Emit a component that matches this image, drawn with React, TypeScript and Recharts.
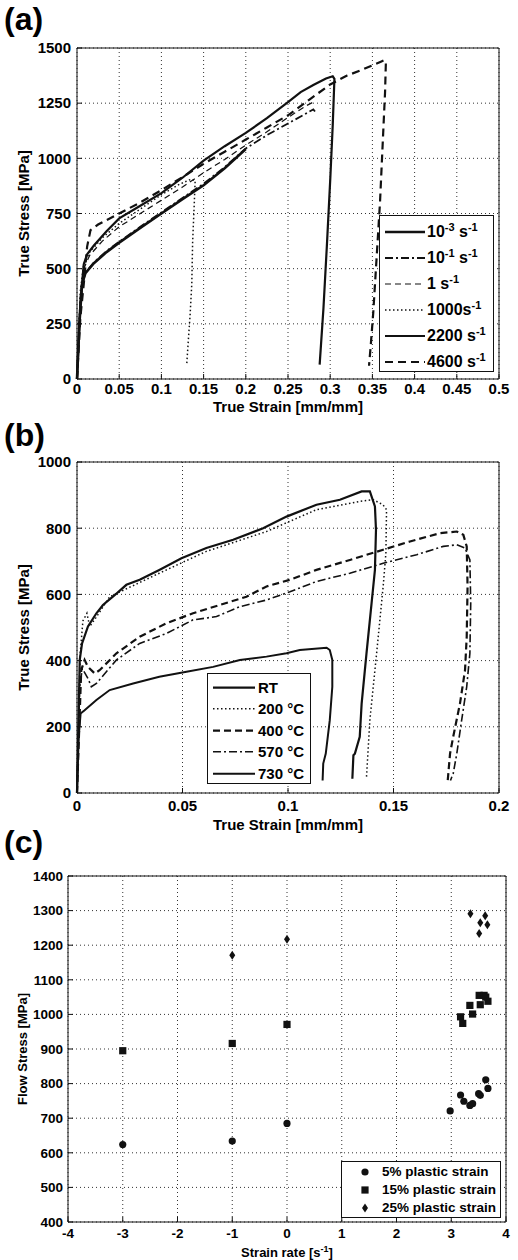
import React from 'react'
import {
  LineChart, Line, ScatterChart, Scatter, XAxis, YAxis, CartesianGrid,
  ReferenceArea, Legend
} from 'recharts'

const FONT = '"Liberation Sans", Arial, Helvetica, sans-serif'
const INK = '#111'

// ---- panel (a): strain-rate series, [strain, stress MPa]
const rate1e3 = [[0, 0], [0.003, 260], [0.006, 430], [0.01, 480], [0.02, 525], [0.035, 575], [0.05, 618], [0.075, 685], [0.1, 750], [0.125, 815], [0.15, 878], [0.175, 955], [0.2, 1042]]
const rate1e1 = [[0, 0], [0.003, 250], [0.006, 425], [0.01, 482], [0.02, 528], [0.035, 580], [0.05, 622], [0.075, 690], [0.1, 755], [0.125, 820], [0.15, 885], [0.175, 960], [0.2, 1045], [0.225, 1105], [0.25, 1158], [0.27, 1200], [0.28, 1222], [0.282, 1212]]
const rate1 = [[0, 0], [0.004, 380], [0.008, 500], [0.015, 560], [0.03, 625], [0.05, 690], [0.075, 750], [0.1, 810], [0.125, 870], [0.15, 935], [0.175, 995], [0.2, 1060], [0.225, 1120], [0.25, 1185], [0.27, 1235], [0.28, 1255]]
const rate1000 = [[0, 0], [0.004, 400], [0.008, 520], [0.015, 575], [0.03, 640], [0.05, 705], [0.075, 770], [0.1, 835], [0.12, 880], [0.135, 905], [0.14, 900], [0.139, 800], [0.137, 620], [0.136, 430], [0.134, 290], [0.132, 180], [0.13, 65]]
const rate2200 = [[0, 0], [0.004, 350], [0.008, 520], [0.012, 565], [0.02, 605], [0.035, 670], [0.05, 728], [0.075, 785], [0.1, 842], [0.125, 912], [0.15, 990], [0.175, 1055], [0.2, 1115], [0.225, 1182], [0.25, 1255], [0.265, 1300], [0.28, 1332], [0.295, 1362], [0.303, 1372], [0.305, 1360], [0.303, 1150], [0.3, 900], [0.296, 600], [0.292, 320], [0.2875, 65]]
const rate4600 = [[0, 0], [0.004, 280], [0.008, 430], [0.012, 600], [0.016, 675], [0.025, 700], [0.05, 750], [0.075, 800], [0.1, 856], [0.125, 915], [0.15, 975], [0.175, 1030], [0.2, 1085], [0.225, 1140], [0.25, 1195], [0.275, 1265], [0.3, 1335], [0.32, 1375], [0.34, 1405], [0.36, 1438], [0.364, 1445], [0.366, 1438], [0.365, 1300], [0.362, 1050], [0.359, 800], [0.355, 550], [0.351, 300], [0.348, 150], [0.346, 60]]

const strainTicksA = [0, 0.05, 0.1, 0.15, 0.2, 0.25, 0.3, 0.35, 0.4, 0.45, 0.5]
const stressTicksA = [0, 250, 500, 750, 1000, 1250, 1500]

// ---- panel (b): temperature series
const tempRT = [[0, 0], [0.0013, 402], [0.0024, 452], [0.0052, 503], [0.0092, 543], [0.0123, 568], [0.017, 593], [0.0234, 629], [0.0297, 644], [0.039, 674], [0.0495, 709], [0.0613, 740], [0.074, 765], [0.0882, 800], [0.0993, 835], [0.1135, 871], [0.1246, 886], [0.1349, 911], [0.1388, 911], [0.1412, 866], [0.1417, 795], [0.1412, 674], [0.1396, 573], [0.1372, 422], [0.1349, 270], [0.134, 170], [0.1317, 119], [0.131, 114], [0.1305, 43]]
const temp200 = [[0, 0], [0.0015, 420], [0.0028, 520], [0.0047, 543], [0.006, 503], [0.009, 530], [0.0155, 593], [0.039, 664], [0.0613, 730], [0.0898, 790], [0.1135, 856], [0.134, 881], [0.1404, 886], [0.145, 871], [0.1467, 856], [0.1464, 725], [0.1451, 624], [0.142, 422], [0.1388, 220], [0.1372, 48]]
const temp400 = [[0, 0], [0.002, 371], [0.0036, 402], [0.0052, 381], [0.0084, 361], [0.0107, 371], [0.0187, 422], [0.0297, 472], [0.0424, 513], [0.055, 543], [0.0677, 568], [0.0803, 593], [0.0898, 624], [0.1009, 644], [0.1135, 674], [0.1293, 704], [0.1451, 735], [0.1578, 760], [0.172, 785], [0.18, 790], [0.1831, 780], [0.1847, 745], [0.1851, 624], [0.1847, 472], [0.1839, 371], [0.1815, 270], [0.1783, 170], [0.1768, 119], [0.1757, 38]]
const temp570 = [[0, 0], [0.0013, 321], [0.0025, 376], [0.0052, 346], [0.0068, 321], [0.0092, 331], [0.0187, 402], [0.0297, 452], [0.0424, 482], [0.055, 523], [0.0661, 533], [0.0772, 563], [0.0898, 583], [0.1009, 608], [0.1135, 639], [0.1293, 664], [0.1451, 694], [0.161, 720], [0.1736, 745], [0.18, 750], [0.1839, 740], [0.1862, 704], [0.1866, 573], [0.1862, 422], [0.1847, 321], [0.1823, 220], [0.18, 119], [0.1783, 59], [0.177, 38]]
const temp730 = [[0, 0], [0.0008, 170], [0.0017, 240], [0.0036, 250], [0.0092, 281], [0.0155, 311], [0.0266, 331], [0.039, 351], [0.0519, 366], [0.0645, 381], [0.0772, 402], [0.0898, 412], [0.0993, 422], [0.1056, 432], [0.1183, 439], [0.1198, 432], [0.121, 402], [0.121, 321], [0.1198, 220], [0.1179, 119], [0.1167, 89], [0.1164, 38]]

const strainTicksB = [0, 0.05, 0.1, 0.15, 0.2]
const stressTicksB = [0, 200, 400, 600, 800, 1000]

// ---- panel (c): flow stress vs log strain rate
const plastic5 = [[-3, 624], [-1, 634], [0, 685], [2.98, 721], [3.17, 767], [3.23, 749], [3.34, 737], [3.39, 742], [3.5, 771], [3.53, 766], [3.63, 811], [3.67, 786]]
const plastic15 = [[-3, 895], [-1, 916], [0, 971], [3.17, 993], [3.21, 974], [3.34, 1026], [3.39, 1001], [3.51, 1055], [3.53, 1028], [3.6, 1055], [3.63, 1050], [3.67, 1038]]
const plastic25 = [[-1, 1171], [0, 1217], [3.35, 1291], [3.51, 1234], [3.53, 1265], [3.62, 1285], [3.66, 1259]]

const rateTicksC = [-4, -3, -2, -1, 0, 1, 2, 3, 4]
const flowTicksC = [400, 500, 600, 700, 800, 900, 1000, 1100, 1200, 1300, 1400]

const pts = (a: number[][]) => a.map(([x, y]) => ({ x, y }))

type Series = { key: string; data: number[][]; width: number; dash?: string; label: React.ReactNode }

const sup = (t: string) => <sup style={{ fontSize: 11, lineHeight: 0 }}>{t}</sup>

const seriesA: Series[] = [
  { key: 'r1e3', data: rate1e3, width: 2.6, label: <>10{sup('-3')} s{sup('-1')}</> },
  { key: 'r1e1', data: rate1e1, width: 1.8, dash: '8 3 2 3', label: <>10{sup('-1')} s{sup('-1')}</> },
  { key: 'r1', data: rate1, width: 1.2, dash: '6 4', label: <>1 s{sup('-1')}</> },
  { key: 'r1000', data: rate1000, width: 1.5, dash: '1.5 2.5', label: <>1000s{sup('-1')}</> },
  { key: 'r2200', data: rate2200, width: 2.2, label: <>2200 s{sup('-1')}</> },
  { key: 'r4600', data: rate4600, width: 2.2, dash: '8 5', label: <>4600 s{sup('-1')}</> },
]

const seriesB: Series[] = [
  { key: 'RT', data: tempRT, width: 2.2, label: 'RT' },
  { key: 't200', data: temp200, width: 1.5, dash: '1.5 2.5', label: '200 °C' },
  { key: 't400', data: temp400, width: 2.2, dash: '7 4', label: '400 °C' },
  { key: 't570', data: temp570, width: 1.6, dash: '8 3 2 3', label: '570 °C' },
  { key: 't730', data: temp730, width: 2, label: '730 °C' },
]

const tickStyle = (size: number) => ({ fontSize: size, fontWeight: 'bold' as const, fill: '#000', fontFamily: FONT })
const titleStyle = (size: number) => ({ fontSize: size, fontWeight: 'bold', fill: '#000', fontFamily: FONT, textAnchor: 'middle' as const })
const tickLineStyle = { stroke: INK, strokeWidth: 1 }

function LineLegend({ items, rowH, padTop, lineLen, textLeft, fontSize }: { items: Series[]; rowH: number; padTop: number; lineLen: number; textLeft: number; fontSize: number }) {
  return (
    <div style={{ border: `1px solid ${INK}`, background: '#fff', boxSizing: 'border-box', width: '100%', height: '100%', paddingTop: padTop, fontFamily: FONT, fontWeight: 'bold', fontSize, color: '#000' }}>
      {items.map(s => (
        <div key={s.key} style={{ position: 'relative', height: rowH, lineHeight: `${rowH}px`, whiteSpace: 'nowrap' }}>
          <svg width={lineLen} height={rowH} style={{ position: 'absolute', left: 5, top: 0 }}>
            <line x1={0} x2={lineLen} y1={rowH / 2} y2={rowH / 2} stroke={INK} strokeWidth={s.width} strokeDasharray={s.dash} />
          </svg>
          <span style={{ position: 'absolute', left: textLeft, top: 0 }}>{s.label}</span>
        </div>
      ))}
    </div>
  )
}

const Circle = (p: any) => <circle cx={p.cx} cy={p.cy} r={3.6} fill={INK} />
const Square = (p: any) => <rect x={p.cx - 3.6} y={p.cy - 3.6} width={7.2} height={7.2} fill={INK} />
const Diamond = (p: any) => <polygon points={`${p.cx},${p.cy - 4.5} ${p.cx + 3},${p.cy} ${p.cx},${p.cy + 4.5} ${p.cx - 3},${p.cy}`} fill={INK} />

const markerLegend = [
  { key: 'p5', label: '5% plastic strain', shape: Circle },
  { key: 'p15', label: '15% plastic strain', shape: Square },
  { key: 'p25', label: '25% plastic strain', shape: Diamond },
]

function ScatterLegend() {
  return (
    <div style={{ border: `1px solid ${INK}`, background: '#fff', boxSizing: 'border-box', width: '100%', height: '100%', paddingTop: 1, fontFamily: FONT, fontWeight: 'bold', fontSize: 13.5, color: '#000' }}>
      {markerLegend.map(m => (
        <div key={m.key} style={{ position: 'relative', height: 18, lineHeight: '18px', whiteSpace: 'nowrap' }}>
          <svg width={12} height={18} style={{ position: 'absolute', left: 17, top: 0 }}>
            {m.shape({ cx: 6, cy: 9 })}
          </svg>
          <span style={{ position: 'absolute', left: 40, top: 0 }}>{m.label}</span>
        </div>
      ))}
    </div>
  )
}

function RateTitle(props: any) {
  const vb = props.viewBox || {}
  return (
    <text x={vb.x + vb.width / 2} y={vb.y + vb.height - 3.5} style={titleStyle(13)}>
      Strain rate [s<tspan dy={-5} fontSize={9}>-1</tspan><tspan dy={5}>]</tspan>
    </text>
  )
}

// inward tick marks on the top and right edges of the box
function BoxTicks({ xDomain, yDomain, xTicks, yTicks }: { xDomain: number[]; yDomain: number[]; xTicks: number[]; yTicks: number[] }) {
  return [
    <XAxis key="xt" xAxisId="top" orientation="top" type="number" domain={xDomain} ticks={xTicks} interval={0} height={0}
      axisLine={false} tick={false} tickSize={-5} tickLine={tickLineStyle} />,
    <YAxis key="yr" yAxisId="right" orientation="right" type="number" domain={yDomain} ticks={yTicks} interval={0} width={0}
      axisLine={false} tick={false} tickSize={-5} tickLine={tickLineStyle} />,
  ]
}

const panelLabel = (text: string, top: number) => (
  <div style={{ position: 'absolute', left: 4, top, fontSize: 32, lineHeight: '32px', fontWeight: 'bold', fontFamily: FONT }}>{text}</div>
)

export default function App() {
  return (
    <div style={{ position: 'absolute', left: 0, top: 0, width: 518, height: 1260, background: '#fff', fontFamily: FONT }}>
      <div style={{ position: 'absolute', left: 0, top: 0 }}>
        <LineChart width={518} height={420} margin={{ top: 48, right: 19, bottom: 0, left: 0 }}>
          <CartesianGrid stroke="#333" strokeDasharray="1 3" />
          <XAxis type="number" dataKey="x" domain={[0, 0.5]} ticks={strainTicksA} interval={0} height={41}
            axisLine={false} tickLine={tickLineStyle} tickSize={-5} tickMargin={9} tick={tickStyle(15)}
            label={{ value: 'True Strain [mm/mm]', position: 'insideBottom', offset: 8, style: titleStyle(15) }} />
          <YAxis type="number" domain={[0, 1500]} ticks={stressTicksA} interval={0} width={77}
            axisLine={false} tickLine={tickLineStyle} tickSize={-5} tickMargin={11} tick={tickStyle(15)}
            label={{ value: 'True Stress [MPa]', angle: -90, position: 'insideLeft', offset: 24, style: titleStyle(15) }} />
          {BoxTicks({ xDomain: [0, 0.5], yDomain: [0, 1500], xTicks: strainTicksA, yTicks: stressTicksA })}
          <ReferenceArea x1={0} x2={0.5} y1={0} y2={1500} fill="none" stroke={INK} strokeWidth={1} />
          {seriesA.map(s => (
            <Line key={s.key} data={pts(s.data)} dataKey="y" type="linear" stroke={INK} strokeWidth={s.width}
              strokeDasharray={s.dash} dot={false} activeDot={false} isAnimationActive={false} />
          ))}
          <Legend layout="horizontal" verticalAlign="middle" align="center"
            wrapperStyle={{ left: 379, top: 215, width: 115, height: 157 }}
            content={() => <LineLegend items={seriesA} rowH={26} padTop={3} lineLen={40} textLeft={47} fontSize={16} />} />
        </LineChart>
      </div>

      <div style={{ position: 'absolute', left: 0, top: 420 }}>
        <LineChart width={518} height={420} margin={{ top: 42, right: 19, bottom: 0, left: 0 }}>
          <CartesianGrid stroke="#333" strokeDasharray="1 3" />
          <XAxis type="number" dataKey="x" domain={[0, 0.2]} ticks={strainTicksB} interval={0} height={47}
            axisLine={false} tickLine={tickLineStyle} tickSize={-5} tickMargin={12} tick={tickStyle(15)}
            label={{ value: 'True Strain [mm/mm]', position: 'insideBottom', offset: 10, style: titleStyle(15) }} />
          <YAxis type="number" domain={[0, 1000]} ticks={stressTicksB} interval={0} width={77}
            axisLine={false} tickLine={tickLineStyle} tickSize={-5} tickMargin={11} tick={tickStyle(15)}
            label={{ value: 'True Stress [MPa]', angle: -90, position: 'insideLeft', offset: 24, style: titleStyle(15) }} />
          {BoxTicks({ xDomain: [0, 0.2], yDomain: [0, 1000], xTicks: strainTicksB, yTicks: stressTicksB })}
          <ReferenceArea x1={0} x2={0.2} y1={0} y2={1000} fill="none" stroke={INK} strokeWidth={1} />
          {seriesB.map(s => (
            <Line key={s.key} data={pts(s.data)} dataKey="y" type="linear" stroke={INK} strokeWidth={s.width}
              strokeDasharray={s.dash} dot={false} activeDot={false} isAnimationActive={false} />
          ))}
          <Legend layout="horizontal" verticalAlign="middle" align="center"
            wrapperStyle={{ left: 207, top: 253, width: 104, height: 111 }}
            content={() => <LineLegend items={seriesB} rowH={21.4} padTop={3} lineLen={42} textLeft={50} fontSize={15} />} />
        </LineChart>
      </div>

      <div style={{ position: 'absolute', left: 0, top: 840 }}>
        <ScatterChart width={518} height={420} margin={{ top: 36, right: 12, bottom: 0, left: 0 }}>
          <CartesianGrid stroke="#333" strokeDasharray="1 3" />
          <XAxis type="number" dataKey="x" domain={[-4, 4]} ticks={rateTicksC} interval={0} height={38}
            axisLine={false} tickLine={tickLineStyle} tickSize={-5} tickMargin={11} tick={tickStyle(13.5)}
            label={<RateTitle />} />
          <YAxis type="number" dataKey="y" domain={[400, 1400]} ticks={flowTicksC} interval={0} width={68}
            axisLine={false} tickLine={tickLineStyle} tickSize={-5} tickMargin={10} tick={tickStyle(13.5)}
            label={{ value: 'Flow Stress [MPa]', angle: -90, position: 'insideLeft', offset: 22, style: titleStyle(13) }} />
          {BoxTicks({ xDomain: [-4, 4], yDomain: [400, 1400], xTicks: rateTicksC, yTicks: flowTicksC })}
          <ReferenceArea x1={-4} x2={4} y1={400} y2={1400} fill="none" stroke={INK} strokeWidth={1} />
          <Scatter data={pts(plastic5)} shape={Circle} isAnimationActive={false} />
          <Scatter data={pts(plastic15)} shape={Square} isAnimationActive={false} />
          <Scatter data={pts(plastic25)} shape={Diamond} isAnimationActive={false} />
          <Legend layout="horizontal" verticalAlign="middle" align="center"
            wrapperStyle={{ left: 341, top: 321, width: 160, height: 57 }}
            content={() => <ScatterLegend />} />
        </ScatterChart>
      </div>

      {panelLabel('(a)', 3)}
      {panelLabel('(b)', 419)}
      {panelLabel('(c)', 826)}
    </div>
  )
}
